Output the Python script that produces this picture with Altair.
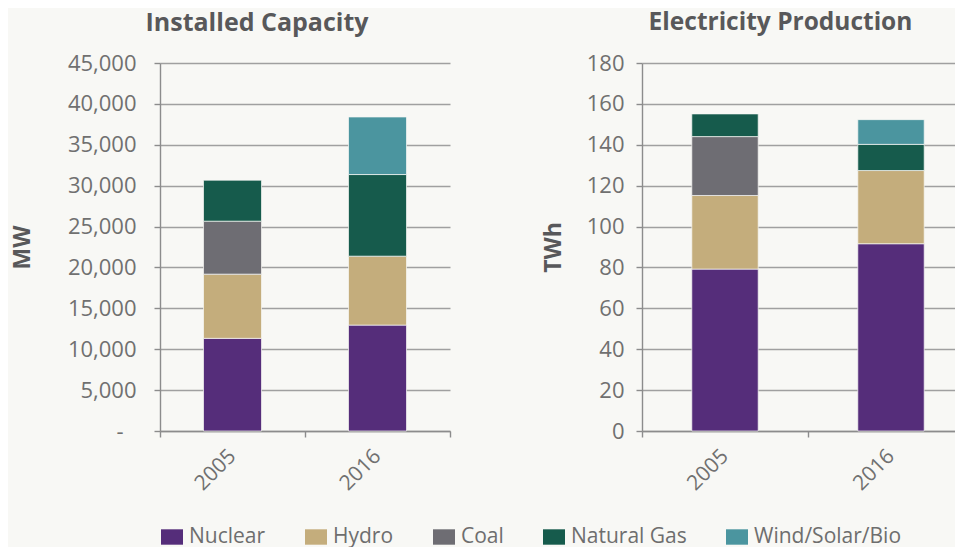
import altair as alt
import pandas as pd

years = ["2005", "2016"]
sources = ["Nuclear", "Hydro", "Coal", "Natural Gas", "Wind/Solar/Bio"]
colors = ["#552d7a", "#c4ad7c", "#6e6d73", "#165b4c", "#4b959f"]

# Installed capacity (MW)
cap_2005 = [11330, 7850, 6480, 5010, 0]
cap_2016 = [12950, 8430, 0, 9980, 7040]
# Electricity production (TWh)
prod_2005 = [79.2, 36.0, 28.8, 11.1, 0]
prod_2016 = [91.6, 35.8, 0, 12.8, 12.1]


def make_df(v2005, v2016):
    rows = []
    for yr, vals in zip(years, [v2005, v2016]):
        for i, (s, v) in enumerate(zip(sources, vals)):
            if v > 0:
                rows.append({"year": yr, "source": s, "value": v, "idx": i})
    return pd.DataFrame(rows)


cap_df = make_df(cap_2005, cap_2016)
prod_df = make_df(prod_2005, prod_2016)

# right panel: clipped on the right in the original, keep its band step
R_W = 313
R_STEP = 166.0
R_PI = 0.6
R_PO = (R_W / R_STEP - (2 - R_PI)) / 2
R_ALIGN = (0.3 * R_STEP) / (R_W - R_STEP * (2 - R_PI))


def panel(df, title, ytitle, ymax, ystep, w, h, label_expr, title_dx,
          label_pad, title_pad, title_size, xscale, bar_width, xaxis_extra):
    return alt.Chart(df).mark_bar(
        width=bar_width, stroke="#f8f8f5", strokeWidth=0.7
    ).encode(
        x=alt.X("year:N", sort=years, scale=xscale,
                axis=alt.Axis(title=None, labelAngle=-45, labelPadding=8,
                              grid=False, **xaxis_extra)),
        y=alt.Y("value:Q", stack="zero",
                scale=alt.Scale(domain=[0, ymax], nice=False),
                axis=alt.Axis(values=list(range(0, ymax + 1, ystep)), title=ytitle,
                              labelExpr=label_expr, labelPadding=label_pad,
                              titlePadding=title_pad)),
        color=alt.Color("source:N", scale=alt.Scale(domain=sources, range=colors)),
        order=alt.Order("idx:Q", sort="ascending"),
    ).properties(
        width=w, height=h,
        title=alt.TitleParams(title, dx=title_dx, offset=16.5,
                              frame="group", anchor="middle", fontSize=title_size),
    )


left = panel(cap_df, "Installed Capacity", "MW", 45000, 5000, 290, 368,
             "datum.value == 0 ? '-' : format(datum.value, ',')",
             -48,
             {"condition": {"test": "datum.value === 0", "value": 31}, "value": 18},
             33, 25,
             alt.Scale(paddingInner=0, paddingOuter=0),
             alt.RelativeBandSize(0.4),
             {"tickBand": "extent", "labelOffset": -8})
right = panel(prod_df, "Electricity Production", "TWh", 180, 20, R_W, 368,
              "format(datum.value, 'd')", -18, 12, 21, 24.5,
              alt.Scale(paddingInner=R_PI, paddingOuter=R_PO, align=R_ALIGN),
              alt.RelativeBandSize(1),
              {"tickOffset": -R_STEP / 2, "labelOffset": R_STEP / 2 - 8})

chart = alt.hconcat(left, right, spacing=91).resolve_scale(color="shared").properties(
    background="#f8f8f5",
    padding={"left": 3, "top": 2, "right": 0, "bottom": 0},
).configure_view(stroke=None).configure_axis(
    labelFont="Open Sans", labelFontSize=21, labelColor="#707070",
    titleFont="Open Sans", titleFontSize=23, titleFontWeight="bold",
    titleColor="#58585a",
    gridColor="#a0a0a0", gridWidth=1.4,
    domainColor="#8c8c8c", domainWidth=1.4,
    tickColor="#8c8c8c", tickWidth=1.4, tickSize=6,
).configure_axisY(labelFontSize=22).configure_title(
    font="Open Sans", fontWeight="bold", color="#58585a",
).configure_legend(
    orient="none", legendX=1, legendY=463, direction="horizontal",
    title=None, symbolType="M-1,-0.7H1V0.7H-1Z", symbolSize=484,
    symbolStrokeWidth=0, symbolOpacity=1,
    labelFont="Open Sans", labelFontSize=21, labelColor="#6e6e6e",
    labelOffset=6, columnPadding=39, padding=0,
)

chart.save("out.html", embed_options={"renderer": "svg", "actions": False})
